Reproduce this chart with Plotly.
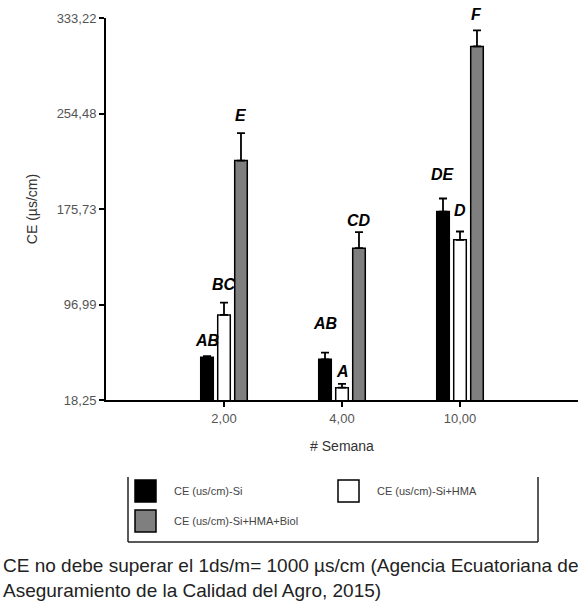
import plotly.graph_objects as go

# Week categories and tick labels
weeks = [1, 2, 3]
week_labels = ["2,00", "4,00", "10,00"]

# Electrical conductivity (µs/cm) per treatment, with upper standard error
ce_si = [53.5, 51.8, 173.6]
ce_si_err = [1.0, 5.5, 10.8]
ce_si_hma = [88.4, 28.4, 150.3]
ce_si_hma_err = [10.1, 3.1, 6.9]
ce_si_hma_biol = [215.7, 143.4, 309.8]
ce_si_hma_biol_err = [22.6, 13.2, 13.2]

# Tukey grouping letters
letters_si = ["AB", "AB", "DE"]
letters_si_hma = ["BC", "A", "D"]
letters_si_hma_biol = ["E", "CD", "F"]

series_names = ["CE (us/cm)-Si", "CE (us/cm)-Si+HMA", "CE (us/cm)-Si+HMA+Biol"]

y_ticks = [18.25, 96.99, 175.73, 254.48, 333.22]
y_tick_labels = ["18,25", "96,99", "175,73", "254,48", "333,22"]

note = ("CE no debe superar el 1ds/m= 1000 µs/cm (Agencia Ecuatoriana de<br>"
        "Aseguramiento de la Calidad del Agro, 2015)")

fills = ["#000000", "#ffffff", "#7f7f7f"]
values = [ce_si, ce_si_hma, ce_si_hma_biol]
errors = [ce_si_err, ce_si_hma_err, ce_si_hma_biol_err]
letters = [letters_si, letters_si_hma, letters_si_hma_biol]
# extra pixel gap between each letter and the top of its whisker
letter_gap = [[7, 21, 15], [10, 4, 12], [9, 3, 7]]

BARGAP = 0.568
slot = (1 - BARGAP) / 3

fig = go.Figure()
for i in range(3):
    fig.add_trace(go.Bar(
        x=weeks, y=values[i], name=series_names[i],
        marker=dict(color=fills[i], line=dict(color="#000000", width=1.5)),
        error_y=dict(type="data", symmetric=False, array=errors[i],
                     arrayminus=[0] * len(weeks),
                     color="#000000", thickness=1.8, width=4),
        showlegend=False,
    ))

for i in range(3):
    for j, w in enumerate(weeks):
        fig.add_annotation(
            x=w + (i - 1) * slot, y=values[i][j] + errors[i][j],
            xref="x", yref="y", text="<b><i>%s</i></b>" % letters[i][j],
            showarrow=False, yanchor="bottom", yshift=letter_gap[i][j] - 2,
            font=dict(family="Liberation Sans", size=16, color="#000000"),
        )

# legend drawn as an open-topped box below the chart
legend_font = dict(family="Liberation Sans", size=11, color="#444444")
box = dict(x0=128, x1=538, y0=477, y1=542)
W, H = 587, 602
ml, mr, mt, mb = 106, 9, 18, 202
pw, ph = W - ml - mr, H - mt - mb


def px(x):
    return (x - ml) / pw


def py(y):
    return 1 - (y - mt) / ph


line_style = dict(color="#222222", width=1.5)
fig.add_shape(type="line", xref="paper", yref="paper",
              x0=px(box["x0"]), x1=px(box["x0"]), y0=py(box["y0"]), y1=py(box["y1"]), line=line_style)
fig.add_shape(type="line", xref="paper", yref="paper",
              x0=px(box["x1"]), x1=px(box["x1"]), y0=py(box["y0"]), y1=py(box["y1"]), line=line_style)
fig.add_shape(type="line", xref="paper", yref="paper",
              x0=px(box["x0"]), x1=px(box["x1"]), y0=py(box["y1"]), y1=py(box["y1"]), line=line_style)

swatches = [(135, 480), (338, 480), (135, 510)]
for i, (sx, sy) in enumerate(swatches):
    fig.add_shape(type="rect", xref="paper", yref="paper",
                  x0=px(sx), x1=px(sx + 21), y0=py(sy + 22), y1=py(sy),
                  fillcolor=fills[i], line=dict(color="#000000", width=1.5))
    fig.add_annotation(xref="paper", yref="paper", x=px(sx + 37), y=py(sy + 11),
                       text=series_names[i], showarrow=False,
                       xanchor="left", yanchor="middle", font=legend_font)

fig.add_annotation(xref="paper", yref="paper", x=px(1), y=py(578),
                   text=note, showarrow=False, xanchor="left", yanchor="middle",
                   align="left",
                   font=dict(family="Liberation Sans", size=19, color="#222222"))

fig.update_layout(
    width=W, height=H,
    margin=dict(l=ml, r=mr, t=mt, b=mb),
    paper_bgcolor="#ffffff", plot_bgcolor="#ffffff",
    barmode="group", bargap=BARGAP, bargroupgap=0.26,
    font=dict(family="Liberation Sans"),
)
fig.update_xaxes(
    range=[0, 4], tickvals=weeks, ticktext=week_labels,
    showline=True, linecolor="#000000", linewidth=2,
    ticks="outside", ticklen=5, tickwidth=1.5, tickcolor="#000000",
    showgrid=False, zeroline=False,
    tickfont=dict(size=13, color="#555555"),
    title=dict(text="# Semana", font=dict(size=14, color="#333333"), standoff=17),
)
fig.update_yaxes(
    range=[18.25, 333.22], tickvals=y_ticks, ticktext=y_tick_labels,
    showline=True, linecolor="#000000", linewidth=2,
    ticks="outside", ticklen=5, tickwidth=1.5, tickcolor="#000000",
    showgrid=False, zeroline=False,
    tickfont=dict(size=13, color="#555555"),
    title=dict(text="CE (µs/cm)", font=dict(size=14, color="#333333"), standoff=16),
)

fig.write_html("out.html")
